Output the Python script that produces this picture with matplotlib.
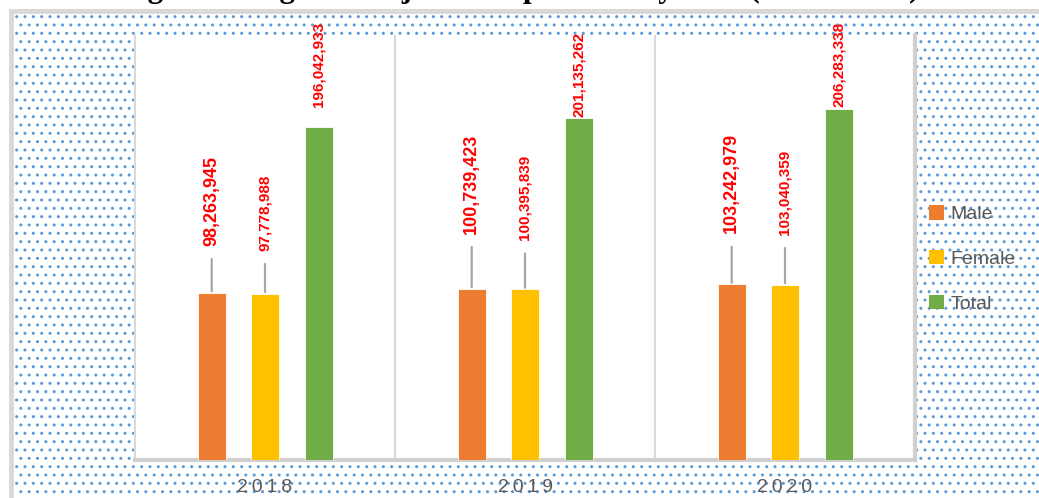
import matplotlib
matplotlib.use("Agg")
import matplotlib.pyplot as plt
from matplotlib.patches import Rectangle, Patch

# data
years = ["2018", "2019", "2020"]
male = [98263945, 100739423, 103242979]
female = [97778988, 100395839, 103040359]
total = [196042933, 201135262, 206283338]
series_names = ["Male", "Female", "Total"]

title = "Figure 1: Nigeria Projected Population by Year (2018 - 2020)"

# styling
colors = ["#ED7D31", "#FFC000", "#70AD47"]
offsets = [-0.205, 0.0, 0.207]
bar_w = 0.108
label_gap_px = [[47, 55, 51], [43, 49, 50], [20, 1, 2]]   # bar top -> label start
label_size = [13, 11, 11]
leader = [True, True, False]

W, H = 1039, 498
plt.rcParams["hatch.color"] = "#5B9BD5"
plt.rcParams["hatch.linewidth"] = 1.0
fam = ["Liberation Sans", "DejaVu Sans"]

fig = plt.figure(figsize=(W / 100, H / 100), dpi=100)

# dotted chart background + grey frame
bg = Rectangle((13 / W, 0), 1, 1 - 13 / H, transform=fig.transFigure,
               facecolor="white", edgecolor="#5B9BD5", linewidth=0,
               hatch="..", zorder=-2)
fig.patches.append(bg)
frame = Rectangle((11 / W, -0.1), 1.2, 1.1 - 11 / H, transform=fig.transFigure,
                  facecolor="none", edgecolor="#D9D9D9", linewidth=3.5, zorder=-1)
fig.patches.append(frame)

# title (cut off at the top of the picture, only the descenders show)
fig.text(120 / W, 1 + 3 / H, title, ha="left", va="baseline",
         fontsize=22.3, fontweight="bold", family="Liberation Serif", color="black")

ax = fig.add_axes([135 / W, (H - 460) / H, 780 / W, 425 / H])
ax.set_facecolor("white")

x = list(range(len(years)))
data = [male, female, total]
for k, vals in enumerate(data):
    xs = [xi + offsets[k] for xi in x]
    ax.bar(xs, vals, width=bar_w, color=colors[k], edgecolor="white",
           linewidth=0.6, zorder=3)
    for i, v in enumerate(vals):
        ap = None
        if leader[k]:
            ap = dict(arrowstyle="-", color="#A6A6A6", lw=1.6,
                      shrinkA=7.5, shrinkB=1.2)
        ax.annotate(f"{v:,}", xy=(xs[i], v), xytext=(0, label_gap_px[k][i] * 0.72),
                    textcoords="offset points", ha="center", va="bottom",
                    rotation=90, color="red", fontweight="bold",
                    fontsize=label_size[k], family=fam, arrowprops=ap, zorder=4)

ax.set_xlim(-0.5, len(years) - 0.5)
ax.set_ylim(0, 250e6)
ax.vlines([i - 0.5 for i in range(len(years) + 1)], 0, 250e6,
          color="#D9D9D9", lw=1.5, zorder=1)
ax.set_yticks([])
ax.set_xticks(x)
ax.set_xticklabels(["\u2009".join(y) for y in years], fontsize=14,
                   color="#595959", family=fam)
ax.tick_params(axis="x", length=0, pad=14)
ax.spines["top"].set_visible(False)
ax.spines["left"].set_color("#D9D9D9")
ax.spines["left"].set_linewidth(1.5)
for s in ["right", "bottom"]:
    ax.spines[s].set_color("#D0D0D0")
    ax.spines[s].set_linewidth(3)

handles = [Patch(facecolor=c, edgecolor="none") for c in colors]
fig.legend(handles, series_names, loc="center left",
           bbox_to_anchor=(929 / W, 1 - 259 / H), frameon=False,
           handlelength=0.75, handleheight=0.75, handletextpad=0.35,
           labelspacing=1.38, borderpad=0, borderaxespad=0,
           prop={"family": fam, "size": 14}, labelcolor="#595959")

fig.savefig("out.png", dpi=100)
